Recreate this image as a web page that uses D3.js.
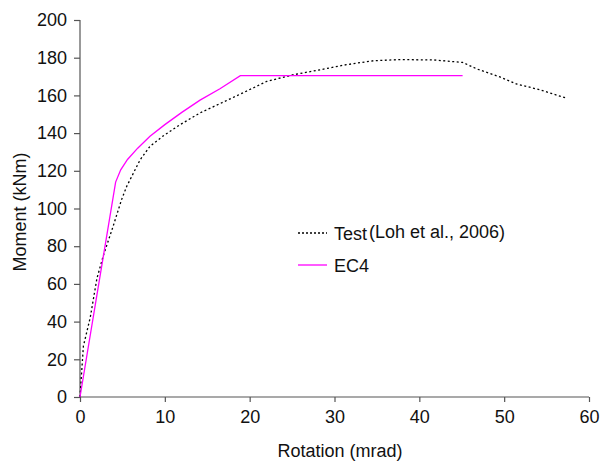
<!DOCTYPE html>
<html>
<head>
<meta charset="utf-8">
<script src="https://cdn.jsdelivr.net/npm/d3@7"></script>
<style>
  body { margin: 0; background: #fff; }
  svg text { font-family: "Liberation Sans", Arial, sans-serif; fill: #111; }
</style>
</head>
<body>
<div class="container"></div>
<script>
const width = 600,
    height = 461,
    marginLeft = 80,
    marginRight = 11,
    marginTop = 20,
    marginBottom = 64;

// test curve (Loh et al., 2006)
const testRotation = [0, 0.4, 1.2, 2.0, 2.75, 3.9, 4.9, 5.5, 6.3, 7.1, 8.25, 9.8, 11.8, 14.15, 18.9, 22, 25.2, 28.3, 31.4, 34.6, 37.7, 41.7, 45.1, 46.8, 49.5, 51.5, 54.2, 57.3];
const testMoment = [0, 27, 42, 63, 75, 90.5, 104.7, 111.7, 118.8, 125.9, 133, 138.5, 144.5, 150.7, 160.7, 167.4, 171, 173.6, 176.3, 178.4, 179, 178.8, 177.5, 174, 169.8, 166, 163, 158.6];

// EC4 prediction
const ec4Rotation = [0, 4.2, 4.8, 5.6, 6.8, 8.25, 10, 12, 14.15, 16.5, 18.9, 45.1];
const ec4Moment = [0, 114, 120.5, 126, 132, 138.3, 144.5, 151, 157.5, 163.5, 170.5, 170.5];

const xTicks = [0, 10, 20, 30, 40, 50, 60];
const yTicks = [0, 20, 40, 60, 80, 100, 120, 140, 160, 180, 200];

const svg = d3.select('.container')
  .append('svg')
  .attr('width', width)
  .attr('height', height);

const xScale = d3.scaleLinear()
  .domain([0, 60])
  .range([marginLeft, width - marginRight]);

const yScale = d3.scaleLinear()
  .domain([0, 200])
  .range([height - marginBottom, marginTop]);

const xAxis = svg.append('g')
  .attr('transform', `translate(0, ${height - marginBottom})`)
  .call(d3.axisBottom(xScale).tickValues(xTicks).tickSize(5).tickPadding(8));

const yAxis = svg.append('g')
  .attr('transform', `translate(${marginLeft}, 0)`)
  .call(d3.axisLeft(yScale).tickValues(yTicks).tickSize(6).tickPadding(7));

[xAxis, yAxis].forEach(ax => {
  ax.selectAll('path.domain').attr('stroke', '#555').attr('stroke-width', 1.2);
  ax.selectAll('.tick line').attr('stroke', '#555').attr('stroke-width', 1.2);
  ax.selectAll('.tick text')
    .style('font-size', '18px')
    .style('font-family', '"Liberation Sans", Arial, sans-serif')
    .attr('fill', '#111');
});
// the outer tick stubs at the axis ends are not drawn in the reference
xAxis.select('path.domain').attr('d', `M${xScale(0)},0H${xScale(60)}`);
yAxis.select('path.domain').attr('d', `M0,${yScale(0)}V${yScale(200)}`);

const line = d3.line()
  .x(d => xScale(d[0]))
  .y(d => yScale(d[1]));

svg.append('path')
  .datum(testRotation.map((r, i) => [r, testMoment[i]]))
  .attr('d', line)
  .attr('fill', 'none')
  .attr('stroke', '#000')
  .attr('stroke-width', 1.3)
  .attr('stroke-dasharray', '2,2.5');

svg.append('path')
  .datum(ec4Rotation.map((r, i) => [r, ec4Moment[i]]))
  .attr('d', line)
  .attr('fill', 'none')
  .attr('stroke', '#ff00ff')
  .attr('stroke-width', 1.3);

// axis titles
svg.append('text')
  .attr('x', 340)
  .attr('y', 457)
  .attr('text-anchor', 'middle')
  .style('font-size', '18px')
  .text('Rotation (mrad)');

svg.append('text')
  .attr('transform', 'rotate(-90)')
  .attr('x', -212)
  .attr('y', 26)
  .attr('text-anchor', 'middle')
  .style('font-size', '18px')
  .text('Moment (kNm)');

// legend
const legend = svg.append('g');
legend.append('line')
  .attr('x1', 298).attr('x2', 327)
  .attr('y1', 233).attr('y2', 233)
  .attr('stroke', '#000')
  .attr('stroke-width', 1.3)
  .attr('stroke-dasharray', '2,2');
legend.append('text')
  .attr('x', 334).attr('y', 240)
  .style('font-size', '18px')
  .text('Test');
legend.append('text')
  .attr('x', 369).attr('y', 238)
  .style('font-size', '18px')
  .text('(Loh et al., 2006)');
legend.append('line')
  .attr('x1', 298).attr('x2', 327)
  .attr('y1', 265).attr('y2', 265)
  .attr('stroke', '#ff00ff')
  .attr('stroke-width', 1.3);
legend.append('text')
  .attr('x', 334).attr('y', 272)
  .style('font-size', '18px')
  .text('EC4');
</script>
</body>
</html>
